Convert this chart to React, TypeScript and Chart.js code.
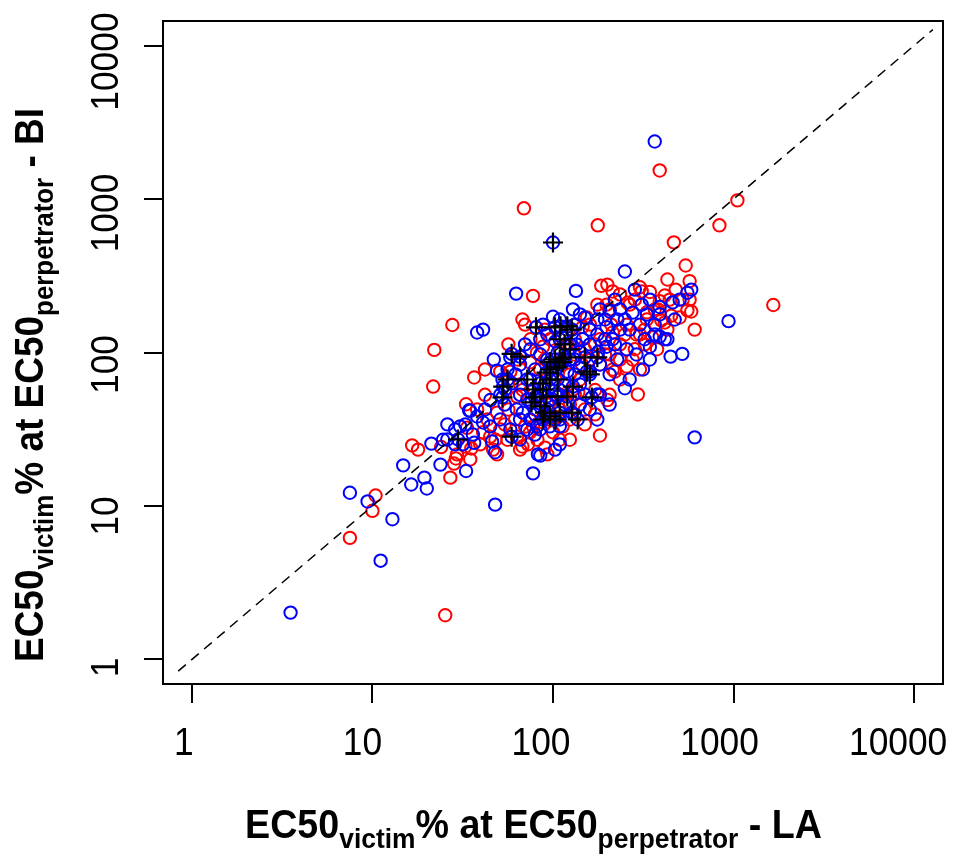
import React, { useEffect, useRef } from "react";
import { Chart, registerables } from "chart.js";

Chart.register(...registerables);

// ---- data (EC50 victim % at EC50 perpetrator: LA on x, BI on y) ----
const redX = [25.3, 7.5, 10.0, 10.4, 16.6, 17.9, 24.0, 21.7, 22.0, 27.7, 27.0, 29.0, 28.3, 33.4, 35.3, 36.6, 32.7, 29.4, 41.0, 46.6, 49.0, 43.3, 51.0, 44.9,
  69, 77.5, 67.7, 70, 56.6, 63.2, 56.6, 61.7, 63.2, 70.0, 77.5, 67.7, 84.8, 100, 113, 90.3, 72.7, 74.6, 94, 106, 129, 138, 96.2, 88, 81.5, 74.6, 84.8, 132,
  177, 390, 1050, 835, 467, 1660, 543, 430, 303, 310, 185, 200, 416, 571, 555, 609, 182, 295, 176, 259, 331, 416, 430, 583, 154, 146, 182, 214, 235, 256,
  276, 214, 235, 206, 266, 198, 331, 398, 90.3, 109, 120, 132, 150, 160, 171, 194, 124, 141, 109, 93, 79.5, 109, 150, 103, 132, 160, 210, 250, 303, 354,
  377, 322, 503, 390, 51, 42, 33, 65.7, 38, 56, 49, 109, 124, 171, 206, 65.7, 42, 85, 366,
  214, 235, 284, 344, 381, 443, 478, 522, 452, 571, 256, 290, 322, 235, 284, 206, 182, 220, 303, 145, 132, 90, 75, 64, 58, 68, 54, 48, 39.5, 34.8,
  82, 93, 124, 150, 171, 200, 124];
const redY = [1.94, 6.2, 9.3, 11.7, 24.8, 23.3, 24.2, 60, 104, 151, 15.3, 20.4, 18.9, 32.3, 23.7, 68.7, 24.4, 21.7, 30.2, 23.3, 40.6, 36.6, 31.5, 28.3,
  870, 234, 164, 152, 113, 51.6, 42.5, 36.6, 28.3, 32.9, 32.9, 24.4, 35.2, 30.2, 32.9, 24.0, 25.2, 30.2, 36.6, 37.9, 57.4, 55.0, 122, 109, 99.6, 86.2, 77.5, 53.3,
  674, 1535, 980, 674, 522, 204, 369, 299, 266, 250, 272, 277, 235, 292, 188, 141, 28.8, 53.3, 205, 211, 183, 157, 141, 185, 169, 147, 122, 135, 90, 81,
  90, 77.5, 66.7, 191, 205, 205, 164, 162, 90, 105, 113, 122, 105, 90, 113, 97, 71.9, 66.7, 53.3, 45.8, 42.5, 42.5, 42.5, 66.7, 152, 152, 152, 131, 131, 126,
  105, 113, 169, 216, 75, 53, 46, 62, 42.5, 27, 21.7, 27, 36.6, 57, 53, 23.3, 77.5, 53, 191,
  250, 239, 221, 248, 191, 221, 257, 221, 174, 221, 152, 131, 141, 113, 105, 97, 83.5, 75, 77.5, 83.5, 97, 141, 122, 90, 75, 57, 34, 27, 25.2, 20.1,
  27, 21.7, 27, 34, 39.5, 49, 45.8];

const blueX = [3.52, 11.1, 12.9, 9.4, 7.5, 16.4, 20, 19.4, 14.8, 21.2, 26, 26, 28.7, 31.7, 33, 34.3, 36.6, 47.8, 41, 38, 62.5, 134, 250, 366, 609, 938,
  520, 448, 77.5, 85, 47, 49, 56, 52.5, 54.3, 59, 34.8, 38, 41, 30.6, 24.6, 36, 44.9, 46, 47.8, 102.6, 82.5, 100, 129, 182, 206, 235, 214, 198, 256, 290,
  315, 250, 344, 390, 390, 460, 503, 555, 583, 276, 331, 198, 160, 176, 146, 135, 106, 72, 68, 63, 65.7, 74.6, 81.5, 96, 109, 58,
  93, 103, 112, 124, 141, 160, 178, 194, 220, 250, 303, 366, 93, 109, 124, 141, 160, 182, 206, 99, 90, 103, 116, 132, 150, 85, 93, 116, 132, 160, 176,
  79.5, 90, 109, 74.6, 65.7, 79.5, 70, 85, 88, 109, 141, 176, 220, 284, 344, 390, 472, 430, 344, 227, 266, 176, 206, 65.7, 54, 51, 58, 65.7, 32.7, 28.7,
  23.8, 42, 127,
  132, 150, 227, 266, 322, 366, 416, 310, 235, 194, 132, 120, 141, 109, 96, 79.5, 85, 72, 109, 141, 182, 85, 75, 62, 51, 45];
const blueY = [2.02, 4.4, 8.2, 10.7, 12.2, 13.8, 13.0, 15.3, 18.4, 25.5, 34, 27.1, 31.5, 25.2, 16.9, 42, 25.8, 10.2, 141, 135, 242, 252, 337, 2370, 28, 160,
  98, 94, 16.3, 21.3, 90, 76, 77.5, 66.7, 57.4, 63, 41.7, 38.3, 35, 33, 27, 29.2, 33, 26.3, 22.4, 23.3, 21.7, 171, 191, 191, 185, 141, 122, 109, 105, 97,
  77.5, 58.5, 109, 127, 198, 212, 221, 245, 257, 182, 177, 146, 141, 131, 122, 113, 99.6, 49.4, 40.6, 42.5, 36.6, 36.6, 33, 33, 33, 93,
  131, 118, 126, 113, 101, 113, 101, 122, 113, 164, 152, 152, 90, 83.5, 90, 80, 75, 83.5, 72, 72, 62, 53.3, 62, 72, 53.3, 49.4, 42.5, 45.8, 39.5, 42.5, 36.6,
  29.2, 39.5, 25.2, 66.7, 83.5, 77.5, 113, 122, 152, 164, 177, 164, 221, 257, 221, 177, 164, 122, 90, 90, 66.7, 53.3, 45.8, 53, 45.8, 36.6, 31.5, 27.1, 34, 25.2,
  18.6, 42.5, 141,
  152, 169, 164, 141, 122, 131, 122, 205, 191, 164, 90, 75, 62, 57, 49, 39.5, 31.5, 31.5, 36.6, 45.8, 53, 97, 105, 72, 53, 49];

// points flagged in both assays: blue circle with a black cross on top
const plusX = [100, 59, 80.5, 102.6, 110, 120, 127, 65.7, 96.2, 102.6, 109, 116.5, 113, 106, 96.2, 92, 150, 176, 154, 160, 56, 53, 52.5, 59, 72, 77.5,
  85, 88, 79.5, 76, 85, 90.3, 96, 103, 88, 109, 127, 137, 120, 129, 106, 106, 96, 92, 164, 29.8, 109, 116, 124];
const plusY = [521, 98, 146, 146, 148, 148, 141, 94, 86.6, 90, 90, 93, 86.6, 80, 77.5, 74, 93, 93, 75, 72, 66.7, 60, 51, 28.3, 66.7, 57.4,
  63, 57.4, 51, 47.3, 44.5, 40.6, 38.3, 36.6, 36.6, 40.6, 40.6, 36.6, 51.6, 60, 51.6, 66.7, 66.7, 51.6, 51, 27.1, 122, 113, 105];

const identityLine = [0.84, 12700];
const tickValues = [1, 10, 100, 1000, 10000];
const tickLabels = ["1", "10", "100", "1000", "10000"];
const xTitleParts = [
  { text: "EC50", sub: false },
  { text: "victim", sub: true },
  { text: "% at EC50", sub: false },
  { text: "perpetrator", sub: true },
  { text: " - LA", sub: false },
];
const yTitleParts = [
  { text: "EC50", sub: false },
  { text: "victim", sub: true },
  { text: "% at EC50", sub: false },
  { text: "perpetrator", sub: true },
  { text: " - BI", sub: false },
];

const FONT_FAMILY = "'Liberation Sans', Arial, Helvetica, sans-serif";

function pts(xs: number[], ys: number[]) {
  return xs.map((x, i) => ({ x, y: ys[i] }));
}

function drawRich(ctx: CanvasRenderingContext2D, parts: { text: string; sub: boolean }[], x: number, y: number, rot: number, target: number) {
  const mainFont = `bold 40px ${FONT_FAMILY}`;
  const subFont = `bold 28px ${FONT_FAMILY}`;
  const widths: number[] = [];
  let total = 0;
  parts.forEach((p) => {
    ctx.font = p.sub ? subFont : mainFont;
    const w = ctx.measureText(p.text).width;
    widths.push(w);
    total += w;
  });
  const k = target / total;
  ctx.save();
  ctx.translate(x, y);
  ctx.rotate(rot);
  ctx.scale(k, 1);
  ctx.textAlign = "left";
  ctx.textBaseline = "alphabetic";
  ctx.fillStyle = "#000";
  let cx = 0;
  parts.forEach((p, i) => {
    ctx.font = p.sub ? subFont : mainFont;
    ctx.fillText(p.text, cx, p.sub ? 10 : 0);
    cx += widths[i];
  });
  ctx.restore();
}

const rAxesPlugin = {
  id: "rAxes",
  afterDraw(chart: any) {
    const { ctx, chartArea: a, scales } = chart;
    const xs = scales.x;
    const ys = scales.y;
    ctx.save();
    ctx.strokeStyle = "#000";
    ctx.lineWidth = 2;
    ctx.strokeRect(a.left, a.top, a.right - a.left, a.bottom - a.top);
    ctx.beginPath();
    tickValues.forEach((v) => {
      const px = Math.round(xs.getPixelForValue(v));
      ctx.moveTo(px, a.bottom);
      ctx.lineTo(px, a.bottom + 19);
      const py = Math.round(ys.getPixelForValue(v));
      ctx.moveTo(a.left, py);
      ctx.lineTo(a.left - 19, py);
    });
    ctx.stroke();

    ctx.fillStyle = "#000";
    ctx.font = `38px ${FONT_FAMILY}`;
    ctx.textAlign = "center";
    ctx.textBaseline = "alphabetic";
    tickValues.forEach((v, i) => {
      const lab = tickLabels[i];
      const shift = 6 + 2 * lab.length;
      const px = xs.getPixelForValue(v) - shift;
      ctx.save();
      ctx.translate(px, a.bottom + 71);
      ctx.scale(0.93, 1);
      ctx.fillText(lab, 0, 0);
      ctx.restore();
      const py = ys.getPixelForValue(v) + shift;
      ctx.save();
      ctx.translate(a.left - 45, py);
      ctx.rotate(-Math.PI / 2);
      ctx.scale(0.93, 1);
      ctx.fillText(lab, 0, 0);
      ctx.restore();
    });

    drawRich(ctx, xTitleParts, 245, a.bottom + 154, 0, 577);
    drawRich(ctx, yTitleParts, a.left - 120, 662, -Math.PI / 2, 554);
    ctx.restore();
  },
};

export default function App() {
  const ref = useRef<HTMLCanvasElement | null>(null);
  useEffect(() => {
    if (!ref.current) return;
    const lo = Math.pow(10, -0.16);
    const hi = Math.pow(10, 4.16);
    const circle = (color: string) => ({
      pointStyle: "circle",
      pointRadius: 6.2,
      pointHoverRadius: 6.2,
      borderColor: color,
      borderWidth: 2,
      backgroundColor: "rgba(0,0,0,0)",
    });
    const chart = new Chart(ref.current, {
      type: "scatter",
      data: {
        datasets: [
          {
            label: "identity",
            data: identityLine.map((v) => ({ x: v, y: v })),
            showLine: true,
            borderColor: "#000",
            borderWidth: 1.5,
            borderDash: [10, 7],
            pointRadius: 0,
            fill: false,
          } as any,
          {
            label: "both",
            data: pts(plusX, plusY),
            pointStyle: "cross",
            pointRadius: 10,
            pointHoverRadius: 10,
            borderColor: "#000",
            borderWidth: 2.2,
            backgroundColor: "rgba(0,0,0,0)",
          } as any,
          { label: "both-circle", data: pts(plusX, plusY), ...circle("#0000FF") } as any,
          { label: "blue", data: pts(blueX, blueY), ...circle("#0000FF") } as any,
          { label: "red", data: pts(redX, redY), ...circle("#FF0000") } as any,
        ],
      },
      options: {
        animation: false,
        responsive: false,
        devicePixelRatio: 1,
        layout: { padding: { left: 163, right: 15, top: 21, bottom: 171 } },
        scales: {
          x: { type: "logarithmic", min: lo, max: hi, display: false },
          y: { type: "logarithmic", min: lo, max: hi, display: false },
        },
        plugins: {
          legend: { display: false },
          tooltip: { enabled: false },
          title: { display: false },
        },
      },
      plugins: [rAxesPlugin],
    });
    return () => chart.destroy();
  }, []);
  return (
    <div style={{ position: "absolute", left: 0, top: 0, width: 958, height: 855, background: "#fff" }}>
      <canvas ref={ref} width={958} height={855} style={{ display: "block" }} />
    </div>
  );
}
